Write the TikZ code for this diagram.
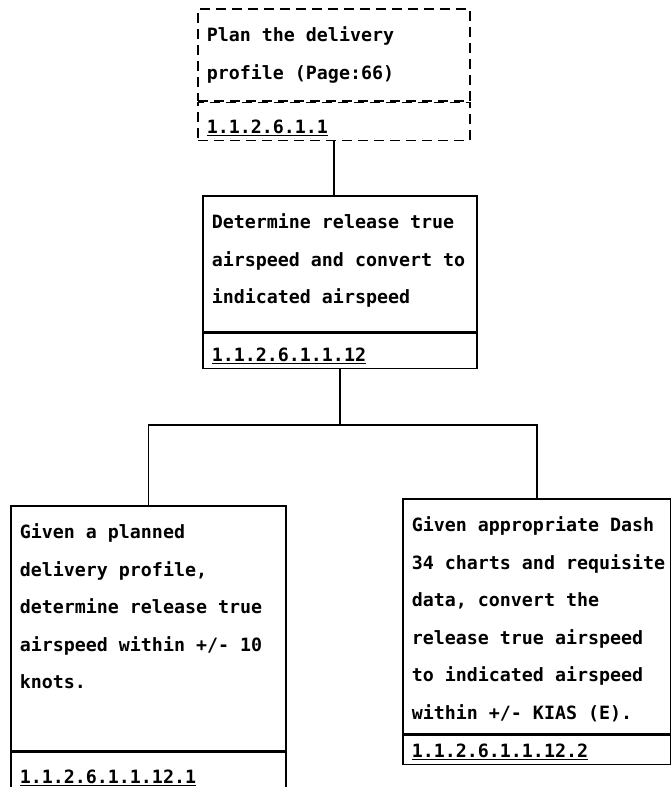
\documentclass[tikz,border=0pt]{standalone}
\usepackage{fontspec}
\usetikzlibrary{positioning}
\newfontfamily\dotfont{DejaVu Sans Mono}
\newcommand{\uppertext}[3]{\parbox[t][#2][t]{#1}{\leftskip=9pt\vspace*{18pt}#3}}
\newcommand{\idtext}[3]{\parbox[t][#2][b]{#1}{\leftskip=9pt\underline{#3}\par\vspace*{5pt}}}
\begin{document}
\begin{tikzpicture}[
          obj/.style={draw, line width=1.6pt, anchor=north west, inner sep=0pt,
            font=\dotfont\bfseries\fontsize{18.3pt}{37.5pt}\selectfont},
          planned/.style={dash pattern=on 10pt off 6pt},
          link/.style={line width=1.6pt},
          x=1pt,
          y=-1pt,
        ]
      \useasboundingbox (0,0) rectangle (671,787);
      \node[obj, planned] (plan) at (197,8) {\uppertext{272pt}{92pt}{Plan the delivery\\profile (Page:66)}};
      \node[obj, planned, below=0pt of plan.south west, anchor=north west] (planid) {\idtext{272pt}{38pt}{1.1.2.6.1.1}};
      \node[obj] (mid) at (202,195) {\uppertext{274pt}{136pt}{Determine release true\\airspeed and convert to\\indicated airspeed}};
      \node[obj, below=0pt of mid.south west, anchor=north west] (midid) {\idtext{274pt}{35pt}{1.1.2.6.1.1.12}};
      \node[obj] (left) at (10,505) {\uppertext{275pt}{245pt}{Given a planned\\delivery profile,\\determine release true\\airspeed within +/- 10\\knots.}};
      \node[obj, below=0pt of left.south west, anchor=north west] (leftid) {\idtext{275pt}{38pt}{1.1.2.6.1.1.12.1}};
      \node[obj] (right) at (402,498) {\uppertext{268pt}{235pt}{Given appropriate Dash\\34 charts and requisite\\data, convert the\\release true airspeed\\to indicated airspeed\\within +/- KIAS (E).}};
      \node[obj, below=0pt of right.south west, anchor=north west] (rightid) {\idtext{268pt}{29pt}{1.1.2.6.1.1.12.2}};
      \draw[link] (planid.south) -- (planid.south |- mid.north);
      \draw[link] (midid.south) -- (midid.south |- 0,425) coordinate (bus);
      \draw[link] (left.north) |- (bus) -| (right.north);
    \end{tikzpicture}
\end{document}
